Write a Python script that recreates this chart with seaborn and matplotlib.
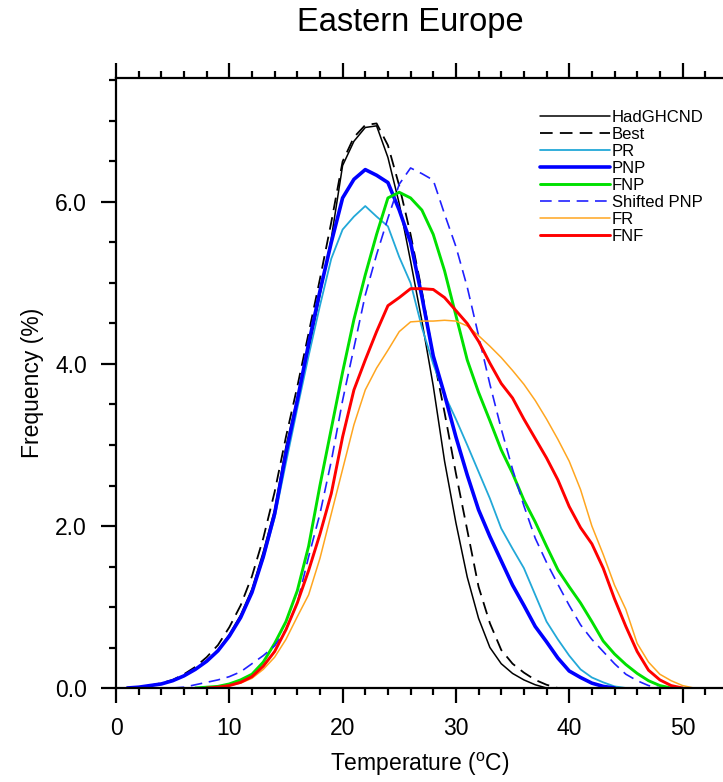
import numpy as np
import pandas as pd
import matplotlib
matplotlib.use("Agg")
import matplotlib.pyplot as plt
import seaborn as sns
from matplotlib.ticker import MultipleLocator, FormatStrFormatter

# ---------------- data ----------------
temperature = list(range(0, 53))

hadghcnd = [0, 0, 0.01, 0.03, 0.05, 0.09, 0.15, 0.23, 0.33, 0.47,
            0.66, 0.90, 1.22, 1.68, 2.20, 2.98, 3.58, 4.17, 4.85, 5.55,
            6.45, 6.75, 6.92, 6.94, 6.55, 5.98, 5.27, 4.53, 3.73, 2.80,
            2.04, 1.37, 0.86, 0.50, 0.30, 0.18, 0.10, 0.04, 0, 0,
            0, 0, 0, 0, 0, 0, 0, 0, 0, 0, 0, 0, 0]

best = [0, 0, 0.01, 0.03, 0.06, 0.10, 0.17, 0.26, 0.38, 0.53,
        0.75, 1.02, 1.38, 1.85, 2.42, 3.10, 3.72, 4.38, 5.05, 5.75,
        6.50, 6.80, 6.95, 6.97, 6.70, 6.20, 5.60, 4.90, 4.10, 3.40,
        2.65, 1.95, 1.25, 0.80, 0.47, 0.30, 0.19, 0.10, 0.04, 0,
        0, 0, 0, 0, 0, 0, 0, 0, 0, 0, 0, 0, 0]

pr = [0, 0, 0.01, 0.03, 0.05, 0.09, 0.15, 0.23, 0.33, 0.46,
      0.64, 0.87, 1.18, 1.60, 2.10, 2.78, 3.45, 4.10, 4.72, 5.30,
      5.66, 5.82, 5.95, 5.82, 5.70, 5.32, 5.00, 4.45, 4.00, 3.62,
      3.32, 3.00, 2.67, 2.34, 1.97, 1.72, 1.48, 1.15, 0.82, 0.60,
      0.40, 0.23, 0.13, 0.07, 0.02, 0, 0, 0, 0, 0, 0, 0, 0]

pnp = [0, 0, 0.01, 0.03, 0.05, 0.09, 0.15, 0.23, 0.33, 0.46,
       0.64, 0.87, 1.18, 1.62, 2.15, 2.90, 3.55, 4.25, 4.90, 5.50,
       6.05, 6.28, 6.40, 6.33, 6.24, 5.90, 5.50, 4.83, 4.10, 3.62,
       3.10, 2.63, 2.20, 1.87, 1.57, 1.27, 1.02, 0.76, 0.57, 0.37,
       0.21, 0.13, 0.06, 0.02, 0, 0, 0, 0, 0, 0, 0, 0, 0]

fnp = [0, 0, 0, 0, 0, 0, 0, 0, 0.01, 0.02,
       0.05, 0.10, 0.17, 0.32, 0.55, 0.82, 1.20, 1.75, 2.50, 3.20,
       3.90, 4.55, 5.10, 5.60, 6.05, 6.12, 6.05, 5.90, 5.60, 5.15,
       4.60, 4.05, 3.65, 3.30, 2.94, 2.65, 2.32, 2.05, 1.75, 1.46,
       1.25, 1.05, 0.82, 0.58, 0.42, 0.29, 0.18, 0.09, 0.03, 0,
       0, 0, 0]

shifted_pnp = [0, 0, 0, 0, 0, 0, 0.01, 0.04, 0.07, 0.10,
               0.14, 0.20, 0.30, 0.40, 0.52, 0.72, 1.05, 1.62, 2.15, 2.80,
               3.55, 4.20, 4.85, 5.35, 5.80, 6.22, 6.42, 6.35, 6.27, 5.85,
               5.45, 4.95, 4.35, 3.75, 3.20, 2.70, 2.25, 1.85, 1.55, 1.28,
               1.02, 0.78, 0.60, 0.45, 0.30, 0.17, 0.09, 0.03, 0, 0,
               0, 0, 0]

fr = [0, 0, 0, 0, 0, 0, 0, 0, 0, 0.01,
      0.03, 0.06, 0.12, 0.23, 0.38, 0.60, 0.88, 1.15, 1.60, 2.15,
      2.70, 3.25, 3.68, 3.95, 4.17, 4.40, 4.52, 4.53, 4.53, 4.54,
      4.53, 4.47, 4.35, 4.22, 4.08, 3.92, 3.75, 3.55, 3.32, 3.07,
      2.80, 2.45, 2.00, 1.65, 1.27, 0.97, 0.55, 0.32, 0.17, 0.09,
      0.03, 0, 0]

fnf = [0, 0, 0, 0, 0, 0, 0, 0, 0, 0.01,
       0.03, 0.07, 0.14, 0.27, 0.45, 0.72, 1.05, 1.45, 1.90, 2.40,
       3.10, 3.68, 4.05, 4.40, 4.72, 4.82, 4.93, 4.93, 4.92, 4.82,
       4.66, 4.50, 4.28, 4.01, 3.76, 3.58, 3.32, 3.08, 2.84, 2.57,
       2.24, 1.98, 1.78, 1.48, 1.10, 0.76, 0.45, 0.22, 0.10, 0.03,
       0, 0, 0]

labels = ["HadGHCND", "Best", "PR", "PNP", "FNP", "Shifted PNP", "FR", "FNF"]
series = [hadghcnd, best, pr, pnp, fnp, shifted_pnp, fr, fnf]
colors = ["#000000", "#000000", "#22a8d8", "#0000ff", "#00e000", "#2020ff", "#ffa620", "#ff0000"]
styles = ["-", (0, (7, 4)), "-", "-", "-", (0, (7, 4)), "-", "-"]
widths = [1.1, 1.3, 1.3, 2.6, 2.1, 1.2, 1.1, 2.1]

# ---------------- style ----------------
sns.set_theme(style="ticks")
plt.rcParams["font.family"] = ["Liberation Sans", "DejaVu Sans"]
plt.rcParams["mathtext.fontset"] = "custom"
plt.rcParams["mathtext.rm"] = "Liberation Sans"
plt.rcParams["mathtext.it"] = "Liberation Sans:italic"
plt.rcParams["text.color"] = "black"
plt.rcParams["axes.labelcolor"] = "black"
plt.rcParams["xtick.color"] = "black"
plt.rcParams["ytick.color"] = "black"
plt.rcParams["xtick.labelcolor"] = "black"
plt.rcParams["ytick.labelcolor"] = "black"

fig = plt.figure(figsize=(7.23, 7.82), dpi=100)
ax = fig.add_axes([116 / 723, 1 - 688 / 782, 1 - 116 / 723, (688 - 78) / 782])

for lab, vals, col, ls, lw in zip(labels, series, colors, styles, widths):
    df = pd.DataFrame({"Temperature": temperature, "Frequency": vals})
    nz = np.nonzero(df["Frequency"].to_numpy())[0]
    lo = max(nz[0] - 1, 0)
    hi = min(nz[-1] + 1, len(df) - 1)
    df = df.iloc[lo:hi + 1]
    sns.lineplot(data=df, x="Temperature", y="Frequency", ax=ax, color=col,
                 linestyle=ls, linewidth=lw, label=lab)

ax.set_xlim(0, (723 - 116) / 11.33)
ax.set_ylim(0, (688 - 78) / 81.0)

ax.xaxis.set_major_locator(MultipleLocator(10))
ax.xaxis.set_minor_locator(MultipleLocator(2))
ax.yaxis.set_major_locator(MultipleLocator(2))
ax.yaxis.set_minor_locator(MultipleLocator(0.5))
ax.yaxis.set_major_formatter(FormatStrFormatter("%.1f"))

ax.spines["right"].set_visible(False)
for s in ["left", "bottom", "top"]:
    ax.spines[s].set_linewidth(1.6)
    ax.spines[s].set_color("black")

ax.tick_params(which="both", direction="out", top=True, right=False,
               labeltop=False, width=1.6, color="black", labelcolor="black")
ax.tick_params(which="major", length=11, labelsize=16.5, pad=10)
ax.tick_params(which="minor", length=5)

ax.set_xlabel(r"Temperature ($^{\mathrm{o}}$C)", fontsize=16.5, labelpad=8, color="black")
ax.set_ylabel("Frequency (%)", fontsize=16.5, labelpad=8, color="black")

fig.text(0.568, 1 - 23 / 782, "Eastern Europe", ha="center", va="center",
         fontsize=23.5, color="black")

leg = ax.legend(loc="upper left", bbox_to_anchor=(540 / 723, 1 - 110 / 782),
                bbox_transform=fig.transFigure, frameon=False, fontsize=12,
                handlelength=4.2, handletextpad=0.1, labelspacing=0.12,
                borderpad=0, borderaxespad=0)
for t in leg.get_texts():
    t.set_color("black")

fig.savefig("out.png", dpi=100)
